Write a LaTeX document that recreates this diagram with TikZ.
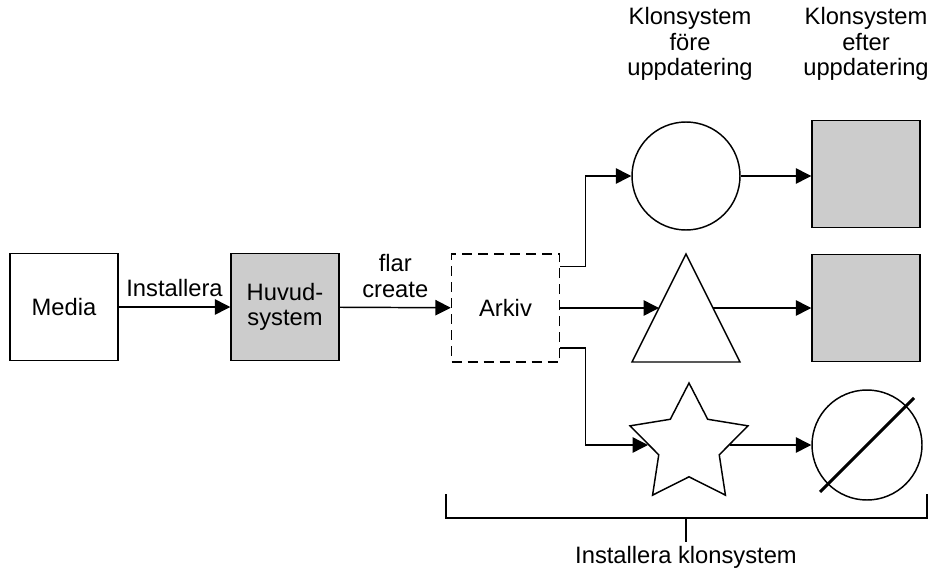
\documentclass[tikz,border=0pt]{standalone}
\usepackage{fontspec}
\setmainfont{Liberation Sans}
\usetikzlibrary{arrows.meta,shapes.geometric}
\definecolor{boxgray}{HTML}{CCCCCC}
\begin{document}
\begin{tikzpicture}[x=0.75pt,y=-0.75pt,
  every node/.style={font=\fontsize{17.8}{19.2}\selectfont},
  line/.style={draw=black,line width=1.1pt},
  arr/.style={line,-{Triangle[length=11.5pt,width=11.5pt]}},
  sq/.style={line,minimum width=81pt,minimum height=80pt,inner sep=0pt,align=center},
  graysq/.style={sq,fill=boxgray},
  dbox/.style={line,dash pattern=on 7.5pt off 4.5pt,minimum width=81pt,minimum height=81pt,inner sep=0pt},
  lbl/.style={align=center,inner sep=0pt}]
\useasboundingbox (0,0) rectangle (939,571);
% main boxes
\node[sq] (media) at (64,307) {Media};
\node[graysq] (huvud) at (285,307) {Huvud-\\system};
\node[dbox] (arkiv) at (505.5,308) {Arkiv};
% clone systems before
\node[line,circle,minimum size=81pt,inner sep=0pt] (c1) at (686,176) {};
\coordinate (tA) at (686,254);
\coordinate (tB) at (740,362);
\coordinate (tC) at (632,362);
\draw[line,line join=miter] (tA) -- (tB) -- (tC) -- cycle;
\coordinate (tL) at (659,308);
\coordinate (tR) at (713,308);
\node[line,star,star points=5,star point ratio=1.95,minimum size=93pt,inner sep=0pt] (st) at (689,445) {};
% clone systems after
\node[graysq] (g1) at (866,174) {};
\node[graysq] (g2) at (866,308) {};
\node[line,circle,minimum size=82.5pt,inner sep=0pt] (c3) at (867,445) {};
\draw[line width=2.3pt] (c3.center) ++(-47,47) -- ++(94,-94);
% connectors
\draw[arr] (media) -- node[lbl,above=7pt] {Installera} (huvud);
\draw[arr] (huvud) -- node[lbl,above=7pt] {flar\\create} (arkiv);
\draw[arr] ([yshift=31pt]arkiv.east) -- ++(25,0) |- (c1);
\draw[arr] (arkiv.east) -- (tL);
\draw[arr] ([yshift=-30pt]arkiv.east) -- ++(25,0) |- (st);
\draw[arr] (c1) -- (g1.west |- c1);
\draw[arr] (tR) -- (g2.west |- tR);
\draw[arr] (st) -- (c3);
% titles
\node[lbl] (t1) at (690,44) {Klonsystem\\före\\uppdatering};
\node[lbl] (t2) at (866,44) {Klonsystem\\efter\\uppdatering};
% bracket
\coordinate (bl) at (446,494);
\coordinate (br) at (927,494);
\coordinate (bm) at (686,518);
\node[lbl] (inst) at (686,557) {Installera klonsystem};
\draw[line] (bl) -- (bl |- bm) -- (br |- bm) -- (br);
\draw[line] (bm) -- ++(0,24);
\end{tikzpicture}
\end{document}
